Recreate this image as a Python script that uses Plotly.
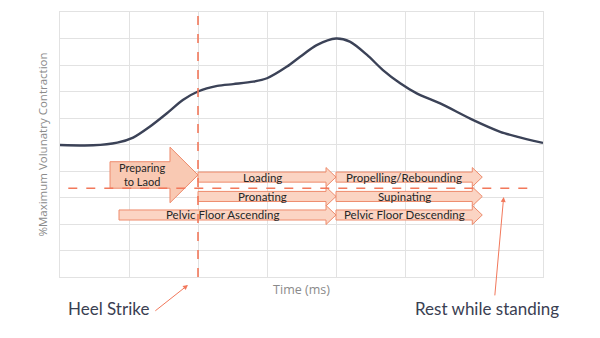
import plotly.graph_objects as go

# Muscle activation curve over one gait cycle
time_pts = [0.0, 0.48, 0.83, 1.06, 1.30, 1.55, 1.78, 2.0, 2.28, 2.51, 2.80, 3.0,
            3.29, 3.48, 3.72, 4.0, 4.20, 4.45, 4.68, 4.93, 5.17, 5.51, 5.99,
            6.38, 6.62, 7.0]
mvc_pts = [4.98, 4.97, 5.07, 5.26, 5.67, 6.18, 6.68, 7.0, 7.21, 7.28, 7.37, 7.5,
           7.94, 8.31, 8.75, 9.0, 8.88, 8.38, 7.81, 7.31, 6.93, 6.55, 5.92,
           5.48, 5.30, 5.06]

# Gait phases: label, start, end, row level
phase_labels = ["Loading", "Propelling/Rebounding", "Pronating", "Supinating",
                "Pelvic Floor Ascending", "Pelvic Floor Descending"]
phase_start = [2.0, 4.0, 2.0, 4.0, 0.855, 4.0]
phase_end = [4.0, 6.12, 4.0, 6.12, 4.0, 6.12]
phase_level = [3.77, 3.77, 3.04, 3.04, 2.34, 2.34]

prep_label = "Preparing<br>to Laod"
prep_start, prep_end, prep_level = 0.725, 2.0, 3.85

heel_strike_t = 2.0
rest_level = 3.35
rest_span = [0.12, 6.86]

FILL = "#fbd4c3"
EDGE = "#ee8b6c"
DASH = "#f2785b"
TEXT = "#262626"
NOTE = "#3a4052"


def arrow_path(x0, x1, yc, body_half, head_half, head_len):
    xb = x1 - head_len
    pts = [(x0, yc - body_half), (xb, yc - body_half), (xb, yc - head_half),
           (x1, yc), (xb, yc + head_half), (xb, yc + body_half),
           (x0, yc + body_half)]
    return "M " + " L ".join(f"{x},{y}" for x, y in pts) + " Z"


fig = go.Figure()
fig.add_trace(go.Scatter(
    x=time_pts, y=mvc_pts, mode="lines",
    line=dict(color="#3b4257", width=2.4, shape="spline", smoothing=0.8),
    hoverinfo="skip", showlegend=False))

shapes = []
annotations = []

# Big "preparing" arrow
shapes.append(dict(type="path", xref="x", yref="y",
                   path=arrow_path(prep_start, prep_end, prep_level, 0.5, 1.05, 0.406),
                   fillcolor="#f9c9b3", line=dict(color=EDGE, width=1), layer="above"))
annotations.append(dict(x=(prep_start + prep_end - 0.406) / 2 + 0.04, y=prep_level,
                        xref="x", yref="y", text=prep_label, showarrow=False,
                        font=dict(family="Lato", size=11, color=TEXT), align="center"))

for lab, s, e, lv in zip(phase_labels, phase_start, phase_end, phase_level):
    shapes.append(dict(type="path", xref="x", yref="y",
                       path=arrow_path(s, e, lv, 0.19, 0.36, 0.145),
                       fillcolor=FILL, line=dict(color=EDGE, width=1), layer="above"))
    annotations.append(dict(x=(s + e - 0.145) / 2, y=lv, xref="x", yref="y",
                            text=lab, showarrow=False,
                            font=dict(family="Lato", size=11.5, color=TEXT)))

# Heel strike and resting reference lines
shapes.append(dict(type="line", xref="x", yref="y", x0=heel_strike_t, x1=heel_strike_t,
                   y0=0, y1=10, line=dict(color=DASH, width=1.6, dash="dash"),
                   layer="above"))
shapes.append(dict(type="line", xref="x", yref="y", x0=rest_span[0], x1=rest_span[1],
                   y0=rest_level, y1=rest_level,
                   line=dict(color=DASH, width=1.6, dash="dash"), layer="above"))

# Callouts below the plot area (domain units so they stay visible)
annotations.append(dict(x=1.855, y=-0.030, ax=1.36, ay=-0.132, xref="x", yref="y domain",
                        axref="x", ayref="y domain", text="", showarrow=True, arrowhead=2,
                        arrowsize=1, arrowwidth=1, arrowcolor=DASH))
annotations.append(dict(x=6.43, y=3.02, ax=6.30, ay=-0.75, xref="x", yref="y",
                        axref="x", ayref="y", text="", showarrow=True, arrowhead=2,
                        arrowsize=1, arrowwidth=1, arrowcolor=DASH))
annotations.append(dict(x=0.71, y=-0.117, xref="x", yref="y domain", text="Heel Strike",
                        yanchor="middle", xanchor="center", showarrow=False,
                        font=dict(family="Lato", size=17, color=NOTE)))
annotations.append(dict(x=6.19, y=-0.117, xref="x", yref="y domain", text="Rest while standing",
                        yanchor="middle", xanchor="center", showarrow=False,
                        font=dict(family="Lato", size=17, color=NOTE)))

fig.update_layout(
    width=600, height=338,
    margin=dict(l=60, r=57, t=12, b=61),
    paper_bgcolor="white", plot_bgcolor="white",
    shapes=shapes, annotations=annotations,
    xaxis=dict(range=[0, 7], dtick=1, tick0=0, showticklabels=False,
               gridcolor="#e2e2e2", zeroline=False, showline=True, mirror=True,
               linecolor="#e2e2e2", ticks="",
               title=dict(text="Time (ms)", standoff=8,
                          font=dict(family="Open Sans", size=12.5, color="#8a8a8a"))),
    yaxis=dict(range=[0, 10], dtick=1, tick0=0, showticklabels=False,
               gridcolor="#e2e2e2", zeroline=False, showline=True, mirror=True,
               linecolor="#e2e2e2", ticks="",
               title=dict(text="%Maximum Volunatry Contraction", standoff=8,
                          font=dict(family="Open Sans", size=11.5, color="#8a8a8a"))),
)

fig.write_html("out.html")
